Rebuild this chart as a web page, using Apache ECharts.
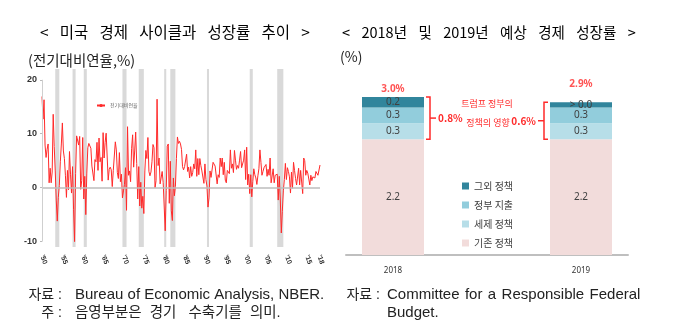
<!DOCTYPE html>
<html><head><meta charset="utf-8">
<script src="https://cdn.jsdelivr.net/npm/echarts@6/dist/echarts.min.js"></script>
<style>html,body{margin:0;padding:0;background:#fff}#c{width:680px;height:334px}</style>
</head><body><div id="c"></div>
<script>
// ---------- Left chart data: US real GDP growth, q/q annualized (%), 1950Q1 - 2018Q2 ----------
const gdpStartYear = 1950;
const gdpGrowth = [
  16.9, 12.7, 16.3, 7.9,   // 1950
  5.6, 7.1, 8.1, 0.9,      // 1951
  3.6, 0.9, 2.9, 13.6,     // 1952
  7.6, 3.1, -2.3, -6.2,    // 1953
  -1.8, 0.4, 4.8, 8.1,     // 1954
  12.0, 6.8, 5.4, 2.3,     // 1955
  -1.8, 3.2, -0.4, 6.7,    // 1956
  2.5, -1.0, 3.9, -4.1,    // 1957
  -10.0, 2.6, 9.6, 9.7,    // 1958
  7.9, 9.5, -0.3, 1.3,     // 1959
  9.3, -2.1, 2.1, -5.0,    // 1960
  2.7, 7.4, 8.2, 8.1,      // 1961
  7.3, 4.0, 4.3, 1.3,      // 1962
  5.2, 4.8, 8.4, 3.2,      // 1963
  9.2, 4.8, 5.6, 1.2,      // 1964
  10.2, 5.5, 8.4, 10.1,    // 1965
  10.1, 1.4, 3.4, 3.8,     // 1966
  3.3, 0.2, 3.2, 3.2,      // 1967
  8.5, 7.0, 2.8, 1.7,      // 1968
  6.5, 1.1, 2.5, -1.9,     // 1969
  -0.6, 0.6, 3.7, -4.2,    // 1970
  11.3, 2.3, 3.1, 1.1,     // 1971
  7.3, 9.8, 3.8, 6.8,      // 1972
  10.3, 4.5, -2.1, 3.9,    // 1973
  -3.4, 1.0, -3.8, -1.6,   // 1974
  -4.8, 3.1, 6.9, 5.4,     // 1975
  9.3, 3.0, 2.2, 2.9,      // 1976
  4.8, 8.0, 7.4, 0.0,      // 1977
  1.3, 16.4, 4.1, 5.5,     // 1978
  0.7, 0.4, 3.0, 1.0,      // 1979
  1.3, -8.0, -0.5, 7.7,    // 1980
  8.1, -2.9, 4.9, -4.3,    // 1981
  -6.1, 1.8, -1.5, 0.2,    // 1982
  5.4, 9.4, 8.2, 8.6,      // 1983
  8.1, 7.1, 3.9, 3.3,      // 1984
  3.9, 3.6, 6.2, 3.0,      // 1985
  3.8, 1.8, 3.9, 2.1,      // 1986
  2.8, 4.4, 3.5, 7.0,      // 1987
  2.1, 5.4, 2.4, 5.4,      // 1988
  4.1, 3.1, 3.0, 0.8,      // 1989
  4.4, 1.5, 0.3, -3.6,     // 1990
  -1.9, 3.1, 1.9, 1.8,     // 1991
  4.7, 4.4, 4.0, 4.2,      // 1992
  0.7, 2.4, 1.9, 5.5,      // 1993
  3.9, 5.5, 2.4, 4.7,      // 1994
  1.4, 0.9, 3.2, 2.9,      // 1995
  2.6, 7.0, 3.6, 4.4,      // 1996
  2.8, 6.9, 5.1, 3.4,      // 1997
  4.1, 3.6, 5.1, 6.7,      // 1998
  3.7, 3.4, 5.1, 7.0,      // 1999
  1.5, 7.5, 0.5, 2.5,      // 2000
  -1.1, 2.4, -1.7, 1.1,    // 2001
  3.5, 2.4, 1.8, 0.6,      // 2002
  2.2, 3.5, 7.0, 4.7,      // 2003
  2.3, 3.0, 3.7, 3.5,      // 2004
  4.3, 2.1, 3.4, 2.3,      // 2005
  5.5, 0.9, 0.6, 3.5,      // 2006
  0.9, 2.3, 2.2, 2.5,      // 2007
  -2.3, 2.1, -2.1, -8.4,   // 2008
  -4.4, -0.6, 1.5, 4.5,    // 2009
  1.5, 3.7, 3.0, 2.0,      // 2010
  -1.0, 2.9, -0.1, 4.7,    // 2011
  3.2, 1.7, 0.5, 0.5,      // 2012
  3.6, 0.5, 3.2, 3.2,      // 2013
  -1.1, 5.5, 5.0, 2.3,     // 2014
  3.2, 2.7, 1.6, 0.5,      // 2015
  2.3, 1.3, 2.0, 1.8,      // 2016
  1.8, 3.0, 2.8, 2.3,      // 2017
  2.2, 4.2                 // 2018
];
// NBER recessions (peak quarter -> trough quarter)
const recessions = [
  ['1953Q2','1954Q2'], ['1957Q3','1958Q2'], ['1960Q2','1961Q1'], ['1969Q4','1970Q4'],
  ['1973Q4','1975Q1'], ['1980Q1','1980Q3'], ['1981Q3','1982Q4'], ['1990Q3','1991Q1'],
  ['2001Q1','2001Q4'], ['2007Q4','2009Q2']
];
const xTickCats = ['1950Q1','1955Q1','1960Q1','1965Q1','1970Q1','1975Q1','1980Q1','1985Q1','1990Q1','1995Q1','2000Q1','2005Q1','2010Q1','2015Q1','2018Q1'];
const xTickLabels = ["'50","'55","'60","'65","'70","'75","'80","'85","'90","'95","'00","'05","'10","'15","'18"];
const yTicks = [-10, 0, 10, 20];
const lineName = '전기대비연율';

// ---------- Right chart data ----------
const barCategories = ['2018', '2019'];
const basePolicy = [2.2, 2.2];
const taxPolicy = [0.3, 0.3];
const govSpending = [0.3, 0.3];
const otherPolicy = [0.2, 0.1];
const otherLabels = ['0.2', '> 0.0'];
const totals = [3.0, 2.9];
const trumpImpact = ['0.8%', '0.6%'];
const stackNames = ['기존 정책', '세제 정책', '정부 지출', '그외 정책'];

// ---------- build ----------
const quarters = gdpGrowth.map((v, i) => (gdpStartYear + Math.floor(i / 4)) + 'Q' + (i % 4 + 1));
const tickMap = {};
xTickCats.forEach((c, i) => { tickMap[c] = xTickLabels[i]; });
const KR = "'Noto Sans CJK KR', 'Noto Sans', sans-serif";
const LAT = "'Liberation Sans', 'Noto Sans CJK KR', sans-serif";
const RED = '#ff2a2a';

// right chart: an empty slot between the two years keeps them apart
const axisCats = [barCategories[0], '', barCategories[1]];
const slot = arr => [arr[0], '-', arr[1]];
const yearIdx = di => di === 0 ? 0 : 1;

const chart = echarts.init(document.getElementById('c'), null, {renderer: 'canvas'});

const stackColors = ['#f2dcdb', '#b7dee8', '#92cddc', '#31859c'];
const stackData = [basePolicy, taxPolicy, govSpending, otherPolicy];
const barSeries = stackNames.map((name, s) => ({
  name: name, type: 'bar', xAxisIndex: 1, yAxisIndex: 1, stack: 'total', barWidth: 62,
  itemStyle: {color: stackColors[s]},
  label: {show: true, position: 'inside', color: '#404040', fontSize: 10, fontFamily: "'Noto Sans', sans-serif",
    formatter: p => s === 3 ? otherLabels[yearIdx(p.dataIndex)] : Number(p.value).toFixed(1)},
  data: slot(stackData[s])
}));

const option = {
  backgroundColor: '#fff',
  animation: false,
  grid: [
    {left: 42, right: 360, top: 69, height: 178},
    {left: 346, right: 52, top: 70.7, bottom: 79}
  ],
  legend: [
    {data: [lineName], left: 91, top: 98, itemWidth: 8, itemHeight: 4, itemGap: 2,
     textStyle: {fontSize: 5, color: '#666', fontFamily: KR}},
    {data: ['그외 정책', '정부 지출', '세제 정책', '기존 정책'], orient: 'vertical', left: 457, top: 176,
     icon: 'rect', itemWidth: 7, itemHeight: 7, itemGap: 9,
     textStyle: {fontSize: 10, color: '#404040', fontFamily: KR}}
  ],
  xAxis: [
    {type: 'category', gridIndex: 0, data: quarters, boundaryGap: false,
     axisLine: {show: false}, axisTick: {show: false}, splitLine: {show: false},
     axisLabel: {interval: (i, v) => tickMap[v] !== undefined, formatter: v => tickMap[v] || '',
       rotate: -70, fontSize: 7, fontWeight: 'bold', color: '#333', margin: 8,
       fontFamily: "'Liberation Sans Narrow', 'Liberation Sans', sans-serif"}},
    {type: 'category', gridIndex: 1, data: axisCats, splitLine: {show: false},
     axisLine: {lineStyle: {color: '#bfbfbf', width: 2}}, axisTick: {show: false},
     axisLabel: {interval: 0, fontSize: 8, color: '#333', margin: 12, fontFamily: "'Noto Sans', sans-serif"}}
  ],
  yAxis: [
    {type: 'value', gridIndex: 0, min: -11, max: 22, splitLine: {show: false},
     axisLine: {show: false},
     axisTick: {show: true, customValues: yTicks, length: 2, lineStyle: {color: '#bbb'}},
     axisLabel: {customValues: yTicks, fontSize: 9, fontWeight: 'bold', color: '#333', margin: 5,
       fontFamily: "'Liberation Sans Narrow', 'Liberation Sans', sans-serif"}},
    {type: 'value', gridIndex: 1, min: 0, max: 3.5, show: false}
  ],
  series: [
    {name: lineName, type: 'line', xAxisIndex: 0, yAxisIndex: 0, data: gdpGrowth,
     symbol: 'none', lineStyle: {color: '#ff2a2a', width: 1}, itemStyle: {color: '#ff2a2a'}, z: 3,
     markArea: {silent: true, itemStyle: {color: '#d9d9d9'},
       data: recessions.map(r => [{xAxis: r[0]}, {xAxis: r[1]}])},
     markLine: {silent: true, symbol: 'none', label: {show: false},
       data: [
         {yAxis: 0, lineStyle: {color: '#bdbdbd', width: 1.5, type: 'solid'}},
         [{coord: [quarters[0], yTicks[0]], lineStyle: {color: '#cfcfcf', width: 1, type: 'solid'}},
          {coord: [quarters[0], yTicks[yTicks.length - 1]]}]
       ]}},
    ...barSeries,
    {name: 'total', type: 'scatter', xAxisIndex: 1, yAxisIndex: 1, symbolSize: 0, z: 5,
     data: [{value: totals[0], label: {distance: 3}}, '-', {value: totals[1], label: {distance: 13}}],
     label: {show: true, position: 'top', color: RED, fontWeight: 'bold', fontSize: 10,
       fontFamily: "'Noto Sans', sans-serif", formatter: p => totals[yearIdx(p.dataIndex)].toFixed(1) + '%'}}
  ]
};
chart.setOption(option);

// ---------- annotations ----------
const g = [];
const txt = (x, y, text, style) => g.push({type: 'text', x: x, y: y, silent: true,
  style: Object.assign({text: text, fill: '#222', font: '14px ' + KR, textVerticalAlign: 'middle'}, style)});

// titles / units
txt(40, 32, ['<', '미국', '경제', '사이클과', '성장률', '추이', '>'].join(' \u2002'), {font: '15.5px ' + KR, fill: '#000'});
txt(28, 60, '(전기대비연율,%)', {font: '14.5px ' + KR, fill: '#222'});
txt(342, 32, ['<', '2018년', '및', '2019년', '예상', '경제', '성장률', '>'].join(' \u2002\u200A'), {font: '14.5px ' + KR, fill: '#000'});
txt(340, 57, '(%)', {font: '14px ' + KR, fill: '#222'});
// sources
txt(62, 295, '자료 :', {font: '14px ' + LAT, textAlign: 'right'});
txt(75, 295, 'Bureau of Economic Analysis, NBER.', {font: '15px ' + LAT});
txt(62, 313, '주 :', {font: '14px ' + LAT, textAlign: 'right'});
txt(75, 313, '음영부분은  경기   수축기를  의미.', {font: '14.5px ' + LAT});
txt(380, 295, '자료 :', {font: '14px ' + LAT, textAlign: 'right'});
txt(387, 295, ['Committee', 'for', 'a', 'Responsible', 'Federal'].join(' \u200A'), {font: '15px ' + LAT});
txt(387, 313, 'Budget.', {font: '15px ' + LAT});

// brackets for the policy impact, placed from the stacked values
const half = 31, gap = 6, cap = 4, tick = 6;
const brackets = [];
[0, 2].forEach((ci, i) => {
  const topVal = basePolicy[i] + taxPolicy[i] + govSpending[i] + otherPolicy[i];
  const pTop = chart.convertToPixel({gridIndex: 1}, [ci, topVal]);
  const pBot = chart.convertToPixel({gridIndex: 1}, [ci, basePolicy[i]]);
  const side = i === 0 ? 1 : -1;
  const bx = pTop[0] + side * (half + gap);
  const mid = (pTop[1] + pBot[1]) / 2;
  brackets.push({bx: bx, top: pTop[1], mid: mid});
  g.push({type: 'polyline', silent: true,
    shape: {points: [[bx - side * cap, pTop[1]], [bx, pTop[1]], [bx, pBot[1]], [bx - side * cap, pBot[1]]]},
    style: {stroke: RED, lineWidth: 1.5, fill: null}});
  g.push({type: 'line', silent: true, shape: {x1: bx, y1: mid, x2: bx + side * tick, y2: mid},
    style: {stroke: RED, lineWidth: 1.5}});
  txt(bx + side * (tick + 2), mid, trumpImpact[i],
    {font: 'bold 10px ' + KR, fill: RED, textAlign: i === 0 ? 'left' : 'right'});
});
const cx = (brackets[0].bx + brackets[1].bx) / 2;
txt(cx, brackets[0].top + 7, '트럼프 정부의', {font: '9px ' + KR, fill: RED, textAlign: 'center'});
txt(cx + 1, brackets[0].top + 26, '정책의 영향', {font: '9px ' + KR, fill: RED, textAlign: 'center'});

chart.setOption({graphic: g});
</script>
</body></html>
